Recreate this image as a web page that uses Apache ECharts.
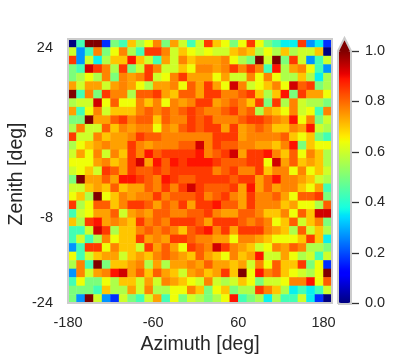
<!DOCTYPE html>
<html lang="en">
<head>
<meta charset="UTF-8"/>
<script src="https://cdn.jsdelivr.net/npm/echarts@6/dist/echarts.min.js"></script>
<title>Azimuth / Zenith map</title>
<style>
  html, body { margin: 0; padding: 0; background: #fff; }
  #main { width: 403px; height: 360px; }
</style>
</head>
<body>
<div id="main"></div>
<script type="text/javascript">
// tick labels
var azimuthTicks = [-180, -60, 60, 180];
var zenithTicks = [-24, -8, 8, 24];
var colorbarTicks = [0, 0.2, 0.4, 0.6, 0.8, 1];

// values, top row first, left to right
var cellRows = [
  [0,.43,1,1,.17,.5,.43,.7,.56,.64,.77,.5,.74,.6,.43,.6,.85,.7,.64,.5,.64,.85,.64,.5,.43,.36,.36,.85,.27,.36,.17],
  [.6,.27,.43,.77,.5,.64,.77,.56,.43,.85,.85,.77,.6,.7,.64,.6,.64,.6,.6,.7,.74,.7,.56,.64,.56,.7,.56,.6,.6,.7,0],
  [.85,.27,.6,.36,.56,.7,.7,.89,.7,.6,.43,.74,.6,.77,.7,.74,.74,.74,.77,.64,.56,.5,1,.6,1,.5,.85,.6,.27,.43,.6],
  [.5,.43,.93,.85,.77,.56,.85,.5,.6,.85,.77,.6,.6,.7,.64,.77,.77,.74,.77,.85,.77,.85,.77,.43,.89,.56,.74,.77,.64,.43,.27],
  [.5,.56,.64,.56,.77,.5,.77,.74,.77,.85,.6,.64,.77,.85,.74,.74,.74,.64,.74,.6,.6,.77,.64,.77,.64,.56,.56,.7,.56,.36,.56],
  [.74,.6,.74,.74,.6,.74,.77,.74,.64,.56,.74,.74,.77,.64,.81,.74,.85,.74,.64,.93,.77,.6,.64,.7,.77,.64,.93,.81,.85,.5,.56],
  [1,.43,.77,.5,.85,.77,.77,.56,.81,.81,.85,.74,.7,.81,.81,.74,.85,.85,.77,.77,.81,.85,.7,.56,.7,.89,.5,.85,.74,.74,.64],
  [.56,.6,.6,.93,.64,.81,.64,.64,.77,.7,.77,.64,.77,.74,.77,.85,.85,.74,.77,.81,.77,.7,.85,.5,.85,.56,.77,.6,.56,.56,.5],
  [.74,.43,.64,.77,.6,.7,.7,.7,.77,.81,.77,.81,.77,.81,.85,.81,.77,.77,.81,.85,.77,.81,.56,.74,.7,.64,.77,.6,.64,.43,.77],
  [.5,.5,1,.74,.74,.81,.85,.77,.81,.81,.7,.81,.77,.77,.85,.81,.85,.77,.77,.77,.81,.85,.85,.81,.77,.74,.89,.64,.77,.5,.6],
  [.56,.77,.6,.6,.81,.7,.77,.74,.77,.77,.64,.77,.74,.81,.85,.81,.85,.85,.74,.85,.74,.77,.81,.77,.7,.7,.77,.74,.89,.6,.56],
  [.85,.6,.6,.77,.7,.74,.74,.77,.85,.81,.81,.77,.77,.77,.77,.77,.77,.85,.85,.85,.74,.77,.77,.77,.77,.81,.7,.64,.7,.5,.43],
  [.56,.64,.7,.74,.77,.74,.74,.85,.77,.74,.77,.77,.77,.81,.81,.93,.77,.85,.81,.81,.77,.77,.74,.74,.7,.77,.89,.5,.7,.64,.64],
  [.6,.74,.64,.77,.6,.77,.7,.85,.77,.89,.81,.85,.85,.85,.85,.89,.77,.81,.85,.93,.74,.85,.85,.89,.77,.7,.81,.64,.77,.7,.56],
  [.64,.64,.64,.74,.77,.7,.74,.85,.93,.74,.89,.81,.89,.85,.89,.89,.89,.85,.81,.81,.81,.85,.85,.64,.93,.74,.81,.7,.74,.7,.56],
  [.6,.64,.7,.6,.85,.81,.74,.85,.81,.81,.85,.81,.85,.85,.85,.85,.85,.77,.81,.85,.77,.77,.85,.7,.77,.77,.64,.77,.64,.7,.6],
  [.5,1,.74,.74,.81,.74,.89,.89,.85,.81,.77,.89,.85,.81,.81,.85,.85,.85,.85,.81,.85,.85,.74,.81,.89,.77,.77,.74,.7,.6,.56],
  [.6,.6,.7,.74,.7,.81,.7,.74,.74,.81,.77,.85,.77,.85,.93,.85,.81,.81,.81,.85,.74,.89,.74,.81,.74,.77,.77,.7,.64,.74,.43],
  [.64,.7,.56,1,.64,.7,.77,.74,.77,.77,.85,.77,.81,.81,.81,.85,.77,.81,.85,.77,.74,.85,.77,.77,.81,.74,.64,.81,.81,.85,.5],
  [.85,.56,.64,.81,.81,.7,.77,.85,.85,.81,.74,.81,.77,.85,.74,.85,.85,.89,.81,.81,.74,.85,.77,.77,.77,.7,.74,.64,.64,.56,.81],
  [.43,.6,.64,.74,.74,.81,.6,.74,.77,.74,.81,.81,.77,.77,.81,.81,.85,.77,.74,.74,.81,.81,.77,.7,.7,.77,.64,.81,.7,.93,.93],
  [.7,.56,.85,.89,.74,.77,.74,.7,.85,.77,.81,.77,.85,.85,.85,.81,.74,.85,.85,.85,.81,.77,.81,.77,.64,.7,.81,.6,.7,.77,.5],
  [.43,.43,.6,.93,.85,.56,.7,.7,.77,.81,.77,.81,.77,.7,.81,.85,.89,.77,.85,.74,.85,.85,.85,.77,.74,.7,.56,.81,.6,.7,.56],
  [.43,.6,.43,.56,.77,.64,.7,.7,.85,.74,.77,.74,.85,.85,.81,.77,.77,.74,.74,.64,.77,.77,.74,.7,.64,.64,.64,.7,.85,.7,.36],
  [.27,.43,.85,.85,.64,.77,.7,.7,.6,.85,.74,.81,.74,.64,.85,.81,.77,.93,.85,.77,.74,.7,.6,.64,.77,.74,.81,.77,.56,.56,.5],
  [.64,.43,.6,.7,.74,.74,.6,.7,.74,.7,.77,.81,.77,.74,.7,.81,.74,.7,.64,.77,.7,.74,.89,.6,.6,.74,.64,.56,.6,.43,.6],
  [.56,.77,.43,1,.5,.7,.7,.74,.77,.56,.74,.56,.74,.74,.77,.74,.81,.74,.74,.7,.74,.6,.77,.64,.81,.7,.7,.85,.5,.64,.17],
  [.27,.77,.6,.74,.77,.89,.93,.74,.81,.7,.81,.74,.7,.6,.74,.77,.7,.74,.85,.7,1,.64,.89,.77,.81,.7,.64,.6,.56,.64,1],
  [.43,.64,.5,.5,.64,.56,.7,.7,.6,.74,.6,.77,.74,.7,.64,.6,.77,.6,.56,.6,.7,.64,.5,.6,.6,.64,.77,.77,.89,.64,.81],
  [.5,.5,.5,.43,.7,.56,.56,.74,.6,.77,.56,.56,.64,.64,.77,.7,.5,.64,.7,.5,.56,.56,.85,.77,.7,.56,.36,.43,.36,.43,.6],
  [.5,.27,1,.6,.27,.17,.6,.5,.43,.6,.74,.43,.64,.5,.6,.56,.5,.56,.64,.89,.43,.5,.56,.36,.56,.43,.43,.6,.36,.17,0]
];

var textColor = '#262626';
var frameColor = '#cccccc';
var fontFamily = '"Liberation Sans", Arial, sans-serif';

// matplotlib jet knots
function knot(t, pts) {
    for (var i = 1; i < pts.length; i++) {
        if (t <= pts[i][0]) {
            var a = pts[i - 1], b = pts[i];
            return a[1] + (b[1] - a[1]) * (t - a[0]) / (b[0] - a[0]);
        }
    }
    return pts[pts.length - 1][1];
}
function jet(t) {
    var r = knot(t, [[0, 0], [.35, 0], [.66, 1], [.89, 1], [1, .5]]);
    var g = knot(t, [[0, 0], [.125, 0], [.375, 1], [.64, 1], [.91, 0], [1, 0]]);
    var b = knot(t, [[0, .5], [.11, 1], [.34, 1], [.65, 0], [1, 0]]);
    return 'rgb(' + Math.round(r * 255) + ',' + Math.round(g * 255) + ',' + Math.round(b * 255) + ')';
}
var jetColors = [];
for (var i = 0; i <= 100; i++) { jetColors.push(jet(i / 100)); }

var rowCount = cellRows.length, colCount = cellRows[0].length;
var cols = [], rows = [], cells = [];
for (var c = 0; c < colCount; c++) { cols.push(c); }
for (var r = 0; r < rowCount; r++) { rows.push(r); }
cellRows.forEach(function (row, r) {
    row.forEach(function (v, c) {
        cells.push([c, rowCount - 1 - r, v]);
    });
});

var tickText = { color: textColor, fontSize: 14.5, fontFamily: fontFamily };

var myChart = echarts.init(document.getElementById('main'), null, { renderer: 'canvas' });

var option = {
    animation: false,
    backgroundColor: '#ffffff',
    grid: [
        { left: 68, top: 39, width: 264, height: 264, show: true, z: 5, outerBoundsMode: 'none',
          backgroundColor: 'transparent', borderColor: frameColor, borderWidth: 2 },
        { left: 338, top: 51, width: 13, height: 252, outerBoundsMode: 'none' }
    ],
    xAxis: [
        { type: 'category', gridIndex: 0, data: cols, show: false },
        { type: 'value', gridIndex: 0, min: -180, max: 192, position: 'bottom',
          splitLine: { show: false }, axisLine: { show: false }, axisTick: { show: false },
          axisLabel: Object.assign({ customValues: azimuthTicks, margin: 12 }, tickText),
          name: 'Azimuth [deg]', nameLocation: 'middle', nameGap: 31,
          nameTextStyle: { color: textColor, fontSize: 19.5, fontFamily: fontFamily } },
        { type: 'value', gridIndex: 1, show: false, min: 0, max: 1 }
    ],
    yAxis: [
        { type: 'category', gridIndex: 0, data: rows, show: false },
        { type: 'value', gridIndex: 0, min: -24, max: 25.6, position: 'left',
          splitLine: { show: false }, axisLine: { show: false }, axisTick: { show: false },
          axisLabel: Object.assign({ customValues: zenithTicks, margin: 15 }, tickText),
          name: 'Zenith [deg]', nameLocation: 'middle', nameGap: 41, nameMoveOverlap: false,
          nameTextStyle: { color: textColor, fontSize: 19.5, fontFamily: fontFamily, padding: [0, 6, 0, 0] } },
        { type: 'value', gridIndex: 1, min: 0, max: 1, interval: 0.2, position: 'right',
          splitLine: { show: false }, axisLine: { show: false }, axisTick: { show: false },
          axisLabel: Object.assign({ margin: 14,
              formatter: function (v) { return v.toFixed(1); } }, tickText) }
    ],
    visualMap: {
        type: 'continuous', seriesIndex: 0, min: 0, max: 1,
        left: 338, top: 51, itemWidth: 13, itemHeight: 252, padding: 0,
        calculable: false, hoverLink: false, text: null,
        inRange: { color: jetColors }
    },
    series: [{
        type: 'heatmap',
        xAxisIndex: 0,
        yAxisIndex: 0,
        data: cells,
        itemStyle: { borderWidth: 0 },
        emphasis: { disabled: true }
    }],
    graphic: [
        { type: 'polygon', z: 10, silent: true,
          shape: { points: [[338, 51], [344.5, 38], [351, 51]] },
          style: { fill: '#800000', stroke: 'none' } },
        { type: 'polyline', z: 11, silent: true,
          shape: { points: [[338, 304], [338, 51], [344.5, 38], [351, 51], [351, 304], [338, 304]] },
          style: { fill: 'none', stroke: frameColor, lineWidth: 2 } }
    ]
};

myChart.setOption(option);

// colorbar tick dashes, placed through the axis scale
myChart.setOption({
    graphic: option.graphic.concat(colorbarTicks.map(function (v) {
        var y = Math.round(myChart.convertToPixel({ yAxisIndex: 2 }, v)) + 0.5;
        return { type: 'line', z: 12, silent: true,
                 shape: { x1: 352, y1: y, x2: 359, y2: y },
                 style: { stroke: '#333333', lineWidth: 1.3 } };
    }))
});
</script>
</body>
</html>
